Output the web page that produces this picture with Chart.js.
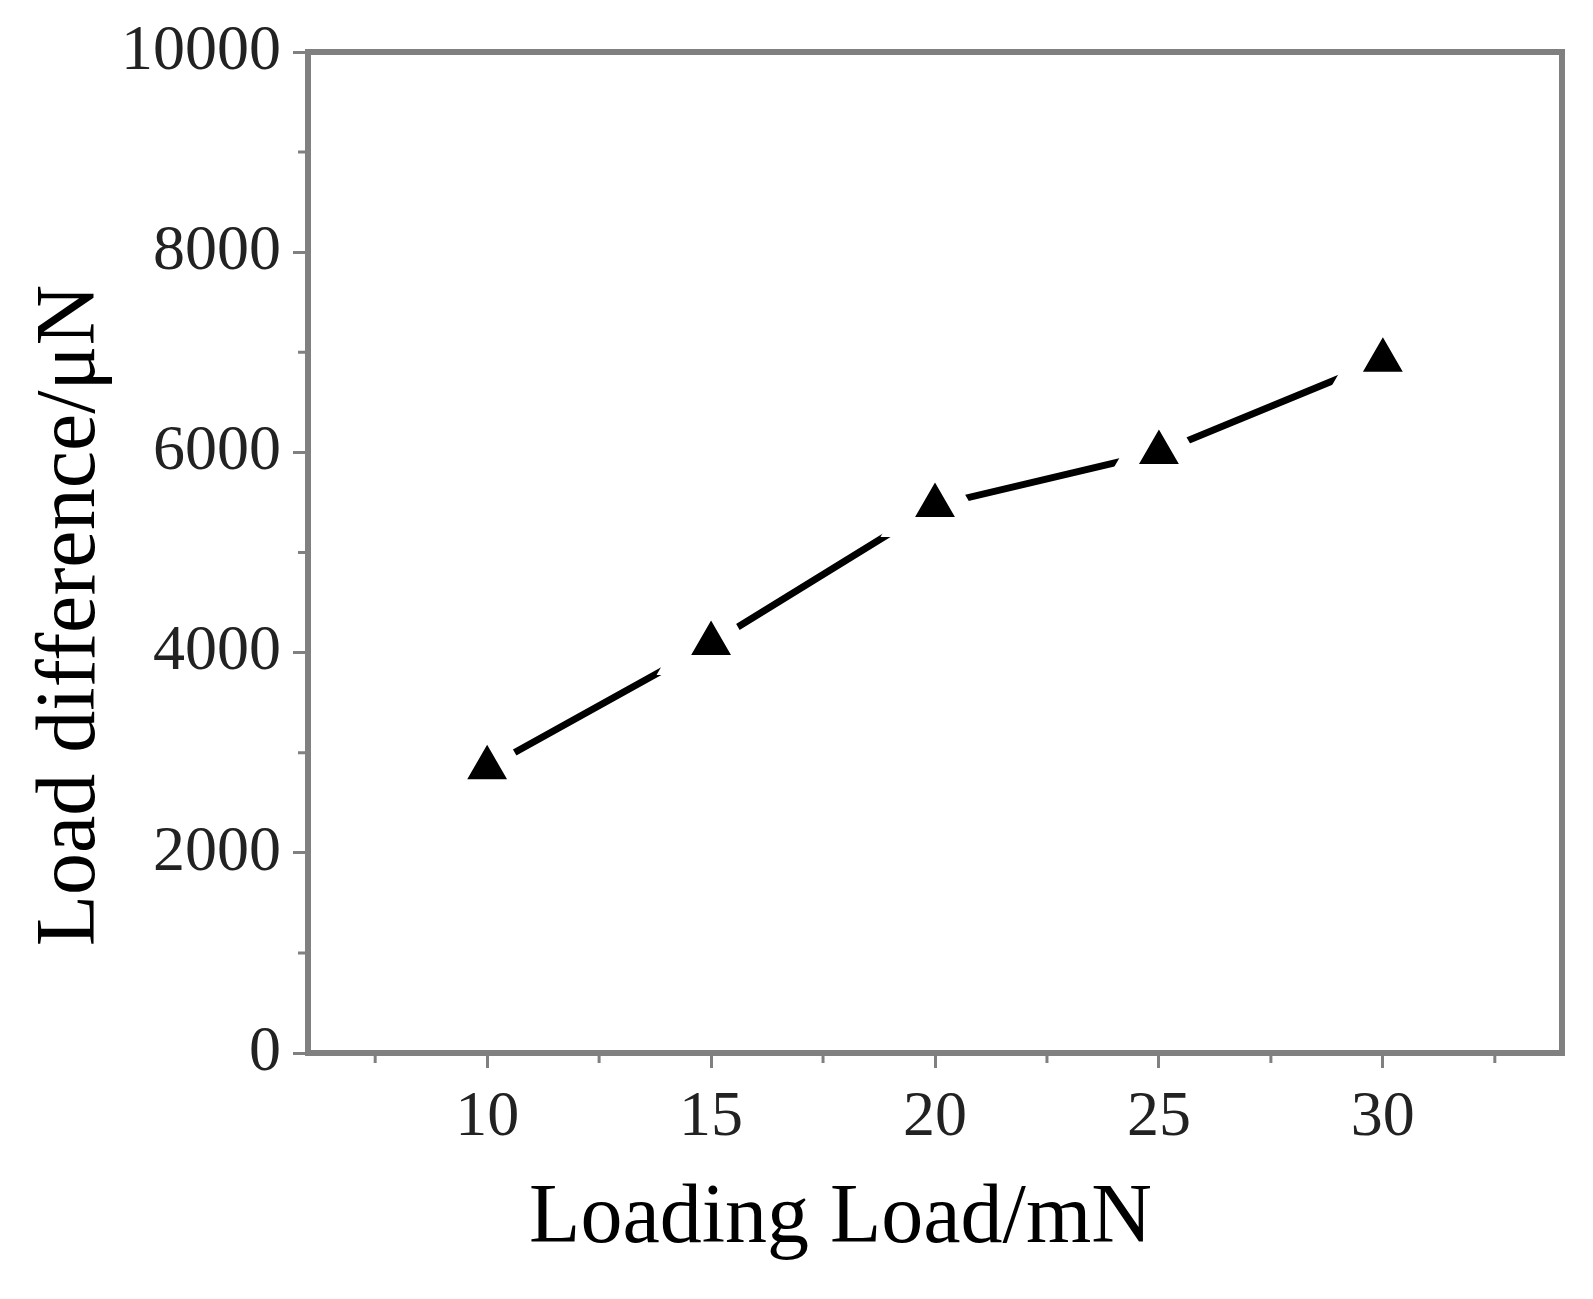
<!DOCTYPE html>
<html>
<head>
<meta charset="utf-8">
<script src="https://cdn.jsdelivr.net/npm/chart.js@4.4.1/dist/chart.umd.min.js"></script>
<style>
  body { margin: 0; background: #fff; }
</style>
</head>
<body>
<canvas id="loadChart" width="1593" height="1299"></canvas>
<script>
// loading load (mN) and measured load difference (uN)
const loadingLoad = [10, 15, 20, 25, 30]
const loadDifference = [2850, 4090, 5470, 6000, 6920]

const xMajorTicks = [10, 15, 20, 25, 30]
const xMinorTicks = [7.5, 12.5, 17.5, 22.5, 27.5, 32.5]
const yMinorTicks = [1000, 3000, 5000, 7000, 9000]

const AXIS_GRAY = "#808080"
const SERIF = "'Liberation Serif', 'Times New Roman', serif"

// top/right frame lines plus the small minor ticks
const framePlugin = {
  id: "frame",
  afterDraw(chart) {
    const ctx = chart.ctx
    const area = chart.chartArea
    const xs = chart.scales.x
    const ys = chart.scales.y
    ctx.save()
    ctx.strokeStyle = AXIS_GRAY
    ctx.lineWidth = 6
    ctx.beginPath()
    ctx.moveTo(area.left - 3, area.top)
    ctx.lineTo(area.right, area.top)
    ctx.moveTo(area.right, area.top - 3)
    ctx.lineTo(area.right, area.bottom + 3)
    ctx.stroke()

    ctx.lineWidth = 3
    ctx.beginPath()
    xMinorTicks.forEach(v => {
      const px = xs.getPixelForValue(v)
      ctx.moveTo(px, area.bottom + 3)
      ctx.lineTo(px, area.bottom + 10)
    })
    yMinorTicks.forEach(v => {
      const py = ys.getPixelForValue(v)
      ctx.moveTo(area.left - 3, py)
      ctx.lineTo(area.left - 10, py)
    })
    ctx.stroke()
    ctx.restore()
  }
}

let CHART = document.getElementById("loadChart")
let loadChart = new Chart(CHART, {
  type: "line",
  data: {
    labels: loadingLoad,
    datasets: [
      {
        label: "Load difference",
        data: loadingLoad.map((x, i) => ({ x: x, y: loadDifference[i] })),
        borderColor: "#000",
        borderWidth: 7,
        fill: false,
        tension: 0,
        pointStyle: "triangle",
        pointRadius: 43,
        pointBackgroundColor: "#000",
        pointBorderColor: "#fff",
        pointBorderWidth: 20,
        pointHoverRadius: 43
      }
    ]
  },
  options: {
    responsive: false,
    animation: false,
    events: [],
    layout: { autoPadding: false, padding: { top: 52, right: 31, left: 0, bottom: 0 } },
    plugins: {
      legend: { display: false },
      tooltip: { enabled: false }
    },
    scales: {
      x: {
        type: "linear",
        min: 6,
        max: 34,
        afterBuildTicks: scale => {
          scale.ticks = xMajorTicks.map(v => ({ value: v }))
        },
        afterFit: scale => {
          scale.height = 246
          scale.paddingLeft = 0
          scale.paddingRight = 0
        },
        border: { display: true, color: AXIS_GRAY, width: 6 },
        grid: {
          drawOnChartArea: false,
          drawTicks: true,
          color: AXIS_GRAY,
          lineWidth: 3,
          tickLength: 15
        },
        ticks: {
          color: "#222",
          font: { family: SERIF, size: 64 },
          padding: 12,
          maxRotation: 0,
          callback: v => String(v)
        },
        title: {
          display: true,
          text: "Loading Load/mN" + "\u00a0".repeat(9),
          color: "#000",
          font: { family: SERIF, size: 84 },
          padding: { top: 0, bottom: 29 }
        }
      },
      y: {
        type: "linear",
        min: 0,
        max: 10000,
        afterFit: scale => {
          scale.width = 308
          scale.paddingTop = 0
          scale.paddingBottom = 0
        },
        border: { display: true, color: AXIS_GRAY, width: 6 },
        grid: {
          drawOnChartArea: false,
          drawTicks: true,
          color: AXIS_GRAY,
          lineWidth: 3,
          tickLength: 15
        },
        ticks: {
          stepSize: 2000,
          color: "#222",
          font: { family: SERIF, size: 64 },
          padding: 12,
          callback: v => String(v)
        },
        title: {
          display: true,
          text: "Load difference/\u03bcN" + "\u00a0".repeat(6),
          color: "#000",
          font: { family: SERIF, size: 84 },
          padding: { top: 22, bottom: 0 }
        }
      }
    }
  },
  plugins: [framePlugin]
})
</script>
</body>
</html>
